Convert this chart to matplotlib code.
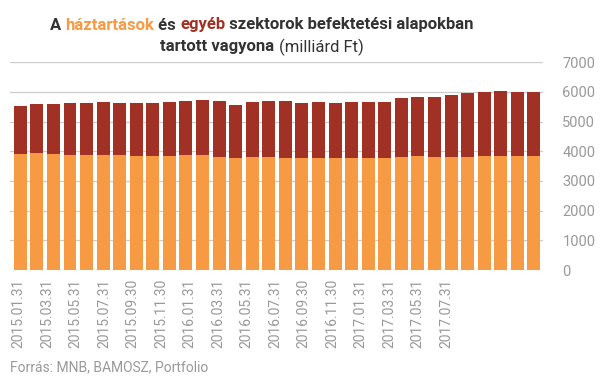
import numpy as np
import matplotlib
matplotlib.use("Agg")
import matplotlib.pyplot as plt

# monthly data, 2015.01 - 2017.08 (billion HUF)
dates = ["2015.01.31", "2015.03.31", "2015.05.31", "2015.07.31", "2015.09.30",
         "2015.11.30", "2016.01.31", "2016.03.31", "2016.05.31", "2016.07.31",
         "2016.09.30", "2016.11.30", "2017.01.31", "2017.03.31", "2017.05.31",
         "2017.07.31"]
haztartas = [3921, 3955, 3921, 3888, 3888, 3888, 3888, 3854, 3854, 3854, 3888,
             3888, 3820, 3787, 3820, 3820, 3787, 3780, 3775, 3775, 3775, 3775,
             3775, 3809, 3843, 3809, 3809, 3809, 3843, 3843, 3843, 3843]
osszes = [5540, 5607, 5607, 5640, 5640, 5674, 5640, 5640, 5640, 5674, 5708,
          5742, 5708, 5573, 5674, 5708, 5708, 5635, 5663, 5629, 5663, 5663,
          5663, 5798, 5831, 5831, 5899, 5966, 6000, 6034, 6000, 6000]
egyeb = [t - h for t, h in zip(osszes, haztartas)]

ORANGE = "#F79A44"
RED = "#A13124"
GREY = "#999999"
DARK = "#333333"

plt.rcParams["font.family"] = ["Roboto", "DejaVu Sans"]

fig = plt.figure(figsize=(6.07, 3.80), dpi=100)
ax = fig.add_axes((10 / 607, 1 - 270 / 380, 533 / 607, (270 - 62.3) / 380))

x = np.arange(len(haztartas))
ax.bar(x, haztartas, width=0.78, color=ORANGE, zorder=2)
ax.bar(x, egyeb, width=0.78, bottom=haztartas, color=RED, zorder=2)

ax.set_xlim(-0.62, len(x) - 0.45)
ax.set_ylim(0, 7000)
ax.set_yticks(range(0, 7001, 1000))
ax.yaxis.tick_right()
ax.grid(axis="y", color="#cccccc", linewidth=0.9, zorder=0)
for s in ax.spines.values():
    s.set_visible(False)
ax.tick_params(axis="y", length=0, pad=14, labelsize=10.5, labelcolor=GREY)

# the original's date labels are packed tighter than the bars
ticks = np.arange(len(dates)) * 1.72 - 0.1
ax.set_xticks(ticks)
ax.set_xticklabels(dates, rotation=90)
ax.tick_params(axis="x", length=0, pad=6, labelsize=10, labelcolor=GREY)

fig.text(10 / 607, 1 - 367 / 380, "Forrás: MNB, BAMOSZ, Portfolio",
         fontsize=10, color=GREY, va="center", ha="left")

# multi-coloured title, drawn piece by piece and centred
title_font = ["Roboto", "DejaVu Sans"]
lines = [
    [("A ", DARK, "bold"), ("háztartások", ORANGE, "bold"), (" és ", DARK, "bold"),
     ("egyéb", RED, "bold"), (" szektorok befektetési alapokban", DARK, "bold")],
    [("tartott vagyona ", DARK, "bold"), ("(milliárd Ft)", DARK, "normal")],
]
line_y = [25, 47]
cx = 262
renderer = fig.canvas.get_renderer()
for parts, ly in zip(lines, line_y):
    texts = []
    for s, c, w in parts:
        t = fig.text(0, 1 - ly / 380, s, fontsize=12, color=c, fontweight=w,
                     family=title_font, va="center", ha="left")
        texts.append(t)
    widths = [t.get_window_extent(renderer).width for t in texts]
    xpos = cx - sum(widths) / 2
    for t, w in zip(texts, widths):
        t.set_x(xpos / 607)
        xpos += w

fig.savefig("out.png", dpi=100)
